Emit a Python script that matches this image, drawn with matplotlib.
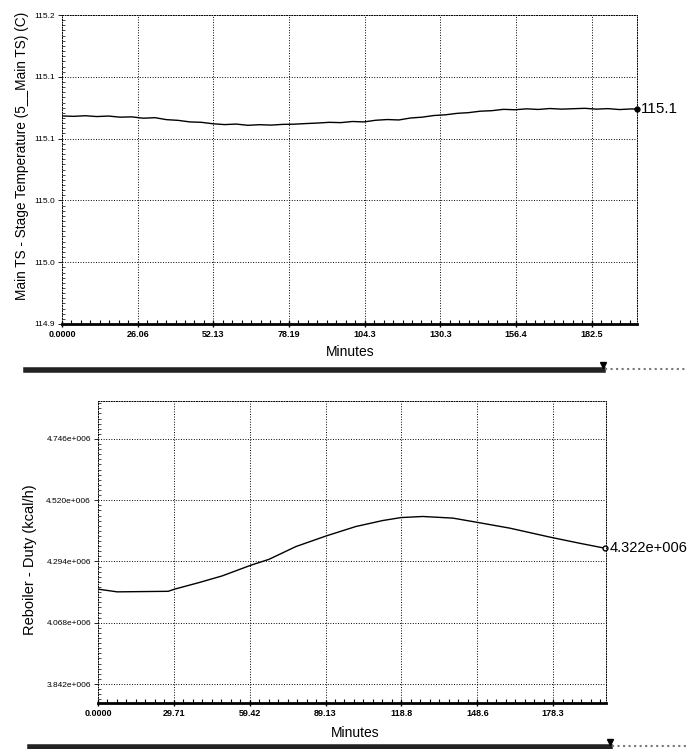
import matplotlib
matplotlib.use("Agg")
import matplotlib.pyplot as plt
from matplotlib.lines import Line2D
from matplotlib.ticker import AutoMinorLocator

plt.rcParams['font.family'] = ['Liberation Sans', 'DejaVu Sans']

# Верхний график: температура ступени
t_min = [0, 4, 8, 12, 16, 20, 24, 28, 32, 36, 40, 44, 48, 52, 56, 60, 64, 68, 72, 76,
         80, 84, 88, 92, 96, 100, 104, 108, 112, 116, 120, 124, 128, 132, 136, 140,
         144, 148, 152, 156, 160, 164, 168, 172, 176, 180, 184, 188, 192, 196, 198]
temp_c = [115.1020, 115.1016, 115.1022, 115.1014, 115.1019, 115.1008, 115.1011, 115.0998,
          115.1003, 115.0984, 115.0977, 115.0962, 115.0958, 115.0944, 115.0936, 115.0941,
          115.0929, 115.0935, 115.0931, 115.0938, 115.0940, 115.0946, 115.0951, 115.0958,
          115.0955, 115.0966, 115.0962, 115.0978, 115.0985, 115.0981, 115.1000, 115.1008,
          115.1024, 115.1031, 115.1045, 115.1052, 115.1066, 115.1071, 115.1084, 115.1080,
          115.1089, 115.1083, 115.1092, 115.1086, 115.1090, 115.1094, 115.1086, 115.1091,
          115.1082, 115.1088, 115.1087]
temp_xticks = [0, 26.06, 52.13, 78.19, 104.3, 130.3, 156.4, 182.5]
temp_xlabels = ['0.0000', '26.06', '52.13', '78.19', '104.3', '130.3', '156.4', '182.5']
temp_yticks = [114.90, 114.96, 115.02, 115.08, 115.14, 115.20]
temp_ylabels = ['114.9', '115.0', '115.0', '115.1', '115.1', '115.2']
temp_end_label = '115.1'

# Нижний график: нагрузка ребойлера
d_min = [0, 7.5, 27.5, 30, 39.5, 48.7, 59.8, 67, 77.5, 89.3, 101, 111.5, 118.7, 127.2,
         139, 148.2, 161.3, 177, 188.8, 198.6]
duty = [4.192e6, 4.182e6, 4.184e6, 4.192e6, 4.216e6, 4.241e6, 4.280e6, 4.302e6, 4.349e6,
        4.388e6, 4.423e6, 4.445e6, 4.456e6, 4.460e6, 4.454e6, 4.439e6, 4.417e6, 4.384e6,
        4.361e6, 4.343e6]
duty_xticks = [0, 29.71, 59.42, 89.13, 118.8, 148.6, 178.3]
duty_xlabels = ['0.0000', '29.71', '59.42', '89.13', '118.8', '148.6', '178.3']
duty_yticks = [3.842e6, 4.068e6, 4.294e6, 4.520e6, 4.746e6]
duty_ylabels = ['3.842e+006', '4.068e+006', '4.294e+006', '4.520e+006', '4.746e+006']
duty_end_label = '4.322e+006'

W, H = 689, 749
fig = plt.figure(figsize=(W / 100, H / 100), dpi=100)


def px_axes(l, t, r, b):
    return fig.add_axes([l / W, 1 - b / H, (r - l) / W, (b - t) / H])


def style_axes(ax, xt, xl, yt, yl):
    ax.set_xticks(xt)
    ax.set_xticklabels(xl, fontsize=6.5, fontweight='bold')
    ax.set_yticks(yt)
    ax.set_yticklabels(yl, fontsize=6)
    ax.xaxis.set_minor_locator(AutoMinorLocator(8))
    ax.yaxis.set_minor_locator(AutoMinorLocator(12))
    ax.grid(True, which='major', color='black', linestyle=':', linewidth=0.7)
    for s in ['top', 'right', 'left']:
        ax.spines[s].set_linestyle(':')
        ax.spines[s].set_linewidth(0.7)
    ax.spines['bottom'].set_linewidth(2)
    ax.tick_params(axis='x', which='major', direction='inout', length=5, width=1, pad=2)
    ax.tick_params(axis='x', which='minor', direction='in', length=3, width=0.8)
    ax.tick_params(axis='y', which='major', direction='out', length=3, width=0.6, pad=2)
    ax.tick_params(axis='y', which='minor', direction='in', length=2, width=0.5)


# верхний
ax1 = px_axes(62, 15, 637, 324)
ax1.plot(t_min, temp_c, color='black', linewidth=1.0)
ax1.plot(t_min[-1], temp_c[-1], 'o', color='black', markersize=3.5, clip_on=False)
ax1.set_xlim(0, 198)
ax1.set_ylim(114.9, 115.2)
style_axes(ax1, temp_xticks, temp_xlabels, temp_yticks, temp_ylabels)
ax1.annotate(temp_end_label, (t_min[-1], temp_c[-1]), xytext=(3, 0), textcoords='offset points',
             va='center', ha='left', fontsize=11, annotation_clip=False)
fig.text(350 / W, 1 - 352 / H, 'Minutes', ha='center', va='center', fontsize=10)
fig.text(22 / W, 1 - 156 / H, 'Main TS - Stage Temperature (5__Main TS) (C)', rotation=90,
         ha='center', va='center', fontsize=9.8)

# нижний
ax2 = px_axes(98, 401, 606, 703)
ax2.plot(d_min, duty, color='black', linewidth=1.0)
ax2.plot(d_min[-1], duty[-1], 'o', color='black', markersize=3.5, mfc='white', clip_on=False)
ax2.set_xlim(0, 199)
ax2.set_ylim(3.772e6, 4.886e6)
style_axes(ax2, duty_xticks, duty_xlabels, duty_yticks, duty_ylabels)
ax2.annotate(duty_end_label, (d_min[-1], duty[-1]), xytext=(3, 0), textcoords='offset points',
             va='center', ha='left', fontsize=10.5, annotation_clip=False)
fig.text(355 / W, 1 - 733 / H, 'Minutes', ha='center', va='center', fontsize=10)
fig.text(30 / W, 1 - 560 / H, 'Reboiler - Duty (kcal/h)', rotation=90,
         ha='center', va='center', fontsize=10.5)

# полосы прокрутки под графиками
for yb, x0, x1 in [(370, 26, 603), (747, 30, 610)]:
    fig.add_artist(Line2D([x0 / W, x1 / W], [1 - yb / H, 1 - yb / H], color='#222222',
                          linewidth=4, transform=fig.transFigure))
    fig.add_artist(Line2D([(x1 + 2) / W, 686 / W], [1 - (yb - 1) / H, 1 - (yb - 1) / H],
                          color='#777777', linewidth=1.5, linestyle=':', transform=fig.transFigure))
    fig.add_artist(Line2D([x1 / W], [1 - (yb - 5) / H], marker='v', color='black',
                          markersize=4, transform=fig.transFigure))

fig.savefig('out.png', dpi=100)
